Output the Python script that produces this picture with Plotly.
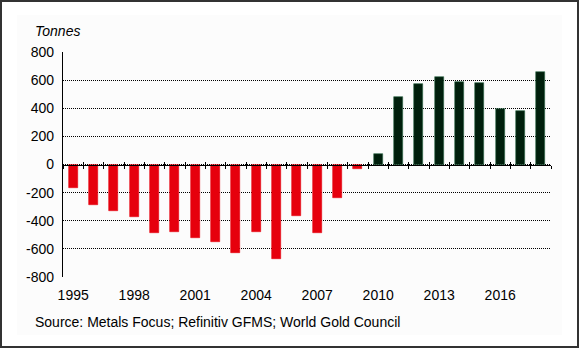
import plotly.graph_objects as go

years = list(range(1995, 2019))
values = [-169, -285, -330, -370, -484, -482, -522, -548, -627, -482, -672,
          -368, -489, -240, -30, 75, 479, 570, 622, 584, 577, 392, 377, 655]
tick_years = [1995, 1998, 2001, 2004, 2007, 2010, 2013, 2016]
y_ticks = [-800, -600, -400, -200, 0, 200, 400, 600, 800]

RED = "#e6000d"
GREEN = "#001f0c"
colors = [RED if v < 0 else GREEN for v in values]
line_colors = [RED if v < 0 else "#2f6b4c" for v in values]

FONT = "Liberation Sans, Arial, sans-serif"
FS = 14

# plot area in pixels
W, H = 580, 349
L, R, T, B = 63, 29, 52, 72
pw, ph = W - L - R, H - T - B

def px_x(x):
    return (x - L) / pw

def px_y(y):
    return (H - B - y) / ph

boundaries = [y - 0.5 for y in years] + [years[-1] + 0.5]

fig = go.Figure()
fig.add_trace(go.Bar(x=years, y=values, width=0.44,
                     marker=dict(color=colors, line=dict(color=line_colors, width=0.6)),
                     showlegend=False, hoverinfo="x+y"))
fig.add_trace(go.Scatter(x=[years[0]], y=[0], xaxis="x2", mode="markers",
                         marker=dict(opacity=0), showlegend=False, hoverinfo="skip"))
fig.add_trace(go.Scatter(x=[years[0]], y=[0], xaxis="x3", mode="markers",
                         marker=dict(opacity=0), showlegend=False, hoverinfo="skip"))

xr = [years[0] - 0.5, years[-1] + 0.5]
fig.update_layout(
    width=W, height=H,
    margin=dict(l=L, r=R, t=T, b=B, pad=0),
    paper_bgcolor="white",
    plot_bgcolor="rgba(0,0,0,0)",
    font=dict(family=FONT, size=FS, color="#000"),
    bargap=0,
    xaxis=dict(range=xr, tickvals=tick_years, ticktext=[str(t) for t in tick_years],
               showgrid=False, zeroline=False, showline=False, ticks="outside",
               ticklen=5, tickcolor="rgba(0,0,0,0)", tickfont=dict(size=FS, family=FONT)),
    xaxis2=dict(range=xr, overlaying="x", anchor="free", position=0.5, side="bottom",
                tickvals=boundaries, showticklabels=False, ticks="outside", ticklen=3,
                tickwidth=1, tickcolor="#000", showline=True, linecolor="#000",
                linewidth=1.3, showgrid=False, zeroline=False),
    xaxis3=dict(range=xr, overlaying="x", anchor="free", position=0.5, side="bottom",
                tickvals=boundaries, showticklabels=False, ticks="inside", ticklen=3,
                tickwidth=1, tickcolor="#000", showline=False, showgrid=False,
                zeroline=False),
    yaxis=dict(range=[-800, 800], tickvals=y_ticks, ticktext=[str(v) for v in y_ticks],
               showgrid=True, gridcolor="#000", gridwidth=1, griddash="1px,1px",
               zeroline=False, showline=True, linecolor="#000", linewidth=1.3,
               ticks="", ticklabelstandoff=5, tickfont=dict(size=FS, family=FONT)),
    shapes=[
        dict(type="rect", xref="paper", yref="paper", layer="below",
             x0=px_x(17), x1=px_x(562), y0=px_y(335), y1=px_y(15),
             fillcolor="#fcfcfc", line=dict(width=0)),
        dict(type="rect", xref="paper", yref="paper", layer="above",
             x0=px_x(1), x1=px_x(578), y0=px_y(347), y1=px_y(1),
             fillcolor="rgba(0,0,0,0)", line=dict(color="#333", width=2)),
    ],
    annotations=[
        dict(text="<i>Tonnes</i>", xref="paper", yref="paper", x=px_x(33), y=px_y(31),
             xanchor="left", yanchor="middle", showarrow=False,
             font=dict(size=FS, family=FONT, color="#000")),
        dict(text="Source: Metals Focus; Refinitiv GFMS; World Gold Council",
             xref="paper", yref="paper", x=px_x(33), y=px_y(322),
             xanchor="left", yanchor="middle", showarrow=False,
             font=dict(size=FS, family=FONT, color="#000")),
    ],
)

fig.write_html("out.html")
